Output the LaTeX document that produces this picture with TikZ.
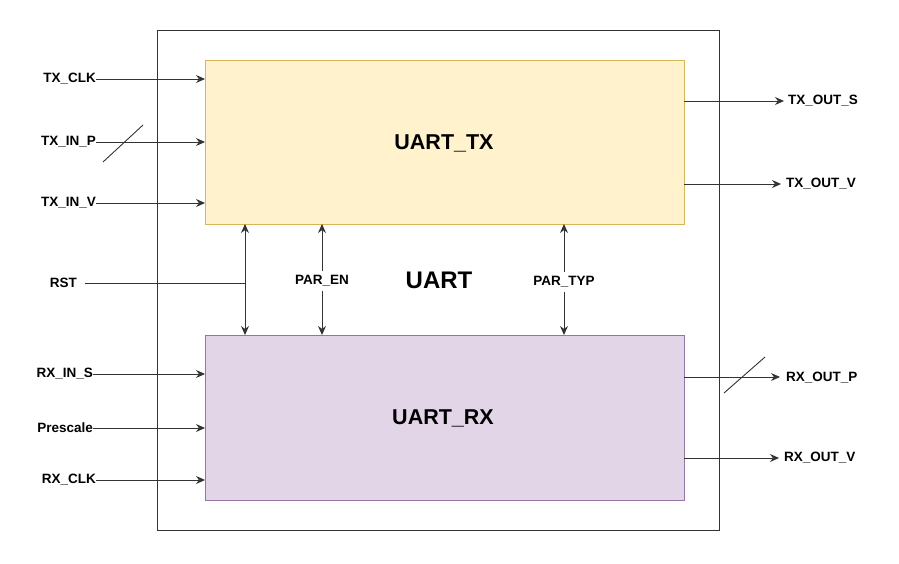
\documentclass[tikz,border=0pt]{standalone}
\usepackage{fontspec}
\setmainfont{Liberation Sans}
\usetikzlibrary{arrows.meta}
\definecolor{txfill}{HTML}{FFF2CC}
\definecolor{txdraw}{HTML}{D6B656}
\definecolor{rxfill}{HTML}{E1D5E7}
\definecolor{rxdraw}{HTML}{9673A6}
\definecolor{ln}{HTML}{333333}
\begin{document}
\begin{tikzpicture}[x=1pt,y=-1pt,
  lbl/.style={font=\bfseries\fontsize{13.5}{16}\selectfont,inner sep=0pt},
  wire/.style={draw=ln,line width=0.9pt},
  arr/.style={wire,-{Stealth[length=9pt,width=8pt]}},
  darr/.style={wire,{Stealth[length=9pt,width=8pt]}-{Stealth[length=9pt,width=8pt]}}]
\useasboundingbox (0,0) rectangle (899,564);
\draw[ln,line width=0.9pt] (157,30) rectangle (719,530);
\node[draw=txdraw,fill=txfill,line width=0.9pt,minimum width=479pt,minimum height=164pt,inner sep=0pt,anchor=north west] (tx) at (205,60) {};
\node[draw=rxdraw,fill=rxfill,line width=0.9pt,minimum width=479pt,minimum height=165pt,inner sep=0pt,anchor=north west] (rx) at (205,335) {};
\node[font=\bfseries\fontsize{21.5}{26}\selectfont] at (444,143) {UART\_TX};
\node[font=\bfseries\fontsize{21.5}{26}\selectfont] at (443,418) {UART\_RX};
\node[font=\bfseries\fontsize{24}{28}\selectfont] at (439,280) {UART};
% left inputs
\node[lbl,anchor=east] (txclk) at (96,79) {TX\_CLK};
\node[lbl,anchor=east] (txinp) at (96,142) {TX\_IN\_P};
\node[lbl,anchor=east] (txinv) at (96,203) {TX\_IN\_V};
\draw[arr] (txclk.east) -- (205,79);
\draw[arr] (txinp.east) -- (205,142);
\draw[arr] (txinv.east) -- (205,203);
\coordinate (s1a) at (103,162);
\coordinate (s1b) at (143,125);
\draw[wire] (s1a) -- (s1b);
\node[lbl,anchor=east] (rxins) at (93,374) {RX\_IN\_S};
\node[lbl,anchor=east] (presc) at (93,428) {Prescale};
\node[lbl,anchor=east] (rxclk) at (96,480) {RX\_CLK};
\draw[arr] (rxins.east) -- (205,374);
\draw[arr] (presc.east) -- (205,428);
\draw[arr] (rxclk.east) -- (205,480);
% RST
\node[lbl,anchor=east] (rst) at (77,283) {RST};
\coordinate (rstj) at (245,283);
\draw[wire] (rst.east) ++(8,0) -- (rstj);
\coordinate (rsttop) at (245,224);
\coordinate (rstbot) at (245,335);
\draw[darr] (rsttop) -- (rstbot);
% PAR_EN, PAR_TYP
\node[lbl,fill=white,inner sep=4pt] (paren) at (322,281) {PAR\_EN};
\draw[arr] (paren.north) -- (322,224);
\draw[arr] (paren.south) -- (322,335);
\node[lbl,fill=white,inner sep=4pt] (partyp) at (564,282) {PAR\_TYP};
\draw[arr] (partyp.north) -- (564,224);
\draw[arr] (partyp.south) -- (564,335);
% right outputs
\node[lbl,anchor=west] (txouts) at (788,101) {TX\_OUT\_S};
\node[lbl,anchor=west] (txoutv) at (786,184) {TX\_OUT\_V};
\node[lbl,anchor=west] (rxoutp) at (786,378) {RX\_OUT\_P};
\node[lbl,anchor=west] (rxoutv) at (784,458) {RX\_OUT\_V};
\draw[arr] (684,101) -- ([xshift=-4pt]txouts.west);
\draw[arr] (684,184) -- ([xshift=-5pt]txoutv.west);
\draw[arr] (684,377) -- ([xshift=-6pt]rxoutp.west |- 0,377);
\draw[arr] (684,458) -- ([xshift=-5pt]rxoutv.west);
\coordinate (s2a) at (724,393);
\coordinate (s2b) at (765,357);
\draw[wire] (s2a) -- (s2b);
\end{tikzpicture}
\end{document}
